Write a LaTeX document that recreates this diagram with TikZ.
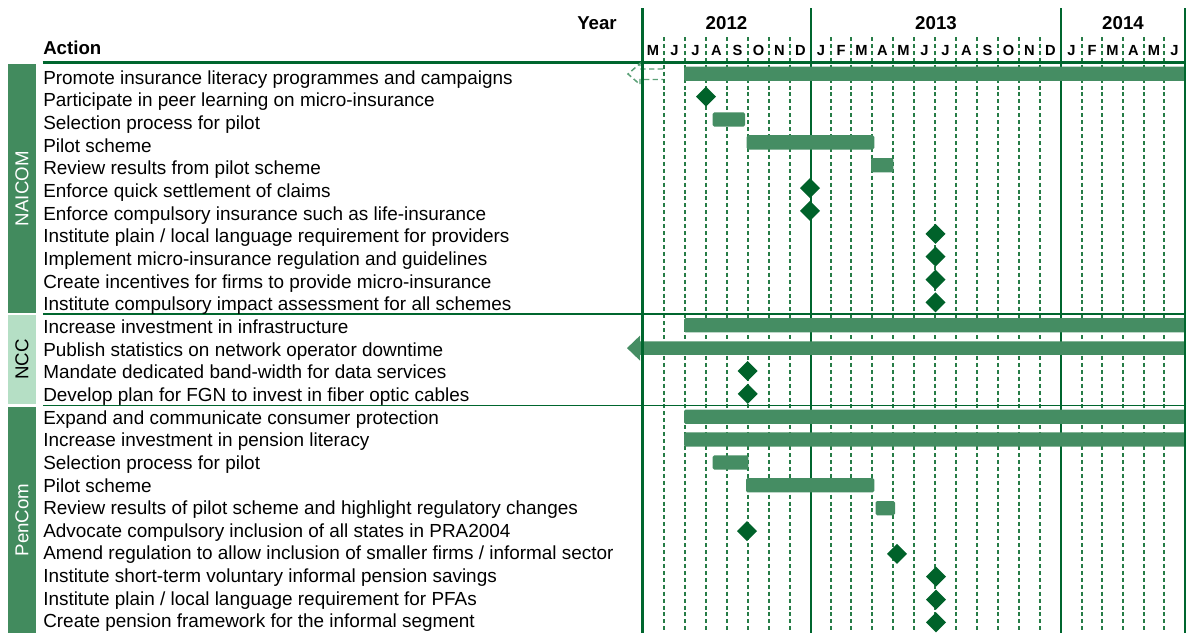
\documentclass[tikz,border=0pt]{standalone}
\usepackage{fontspec}
\setmainfont{Liberation Sans}
\definecolor{gridDark}{RGB}{0,102,46}
\definecolor{gridDash}{RGB}{38,124,70}
\definecolor{barGreen}{RGB}{69,141,99}
\definecolor{markGreen}{RGB}{0,98,42}
\definecolor{sideGreen}{RGB}{66,139,94}
\definecolor{sideLight}{RGB}{181,223,197}
\definecolor{ghostGreen}{RGB}{90,160,118}
\tikzset{
  actiontext/.style={anchor=base west, inner sep=0pt, font=\fontsize{14.2}{16}\selectfont},
  headtext/.style={inner sep=0pt, font=\fontsize{14}{16}\selectfont\bfseries},
  monthtext/.style={anchor=base, inner sep=0pt, font=\fontsize{11}{13}\selectfont\bfseries},
  sidelabel/.style={rotate=90, inner sep=0pt, font=\fontsize{14}{16}\selectfont},
  monthline/.style={draw=gridDash, line width=0.9pt, dash pattern=on 3pt off 2.2pt},
  yearline/.style={draw=gridDark, line width=1.1pt},
  frameline/.style={draw=gridDark, line width=2.2pt},
  groupline/.style={draw=gridDark, line width=1.1pt},
  taskbar/.style={fill=barGreen, rounded corners=1.2pt},
  milestone/.style={fill=markGreen},
}
% bar rows: centre of row i is 73.8 + 22.86 i ; text baseline is 84.3 + 22.65 i
\newcommand{\barrow}[3]{\fill[taskbar] (#2,{73.8+22.86*#1-7.15}) rectangle (#3,{73.8+22.86*#1+7.15});}
\newcommand{\gem}[2]{\fill[milestone] (#2,{73.8+22.86*#1-10}) -- (#2+10,{73.8+22.86*#1}) -- (#2,{73.8+22.86*#1+10}) -- (#2-10,{73.8+22.86*#1}) -- cycle;}
\begin{document}
\begin{tikzpicture}[x=0.75pt,y=-0.75pt]
\useasboundingbox (0,0) rectangle (1186,633);

% side group bars
\fill[sideGreen] (8.3,64.3) rectangle (35.7,313.2);
\fill[sideLight] (8.3,315.2) rectangle (35.7,404.2);
\fill[sideGreen] (8.3,406.8) rectangle (35.7,633);
\node[sidelabel, text=white] (gNaicom) at (22,188.7) {NAICOM};
\node[sidelabel, text=black] (gNcc) at (22,359.7) {NCC};
\node[sidelabel, text=white] (gPencom) at (22,519.9) {PenCom};

% header texts
\node[headtext, anchor=base east] (hYear) at (617,29.5) {Year};
\node[headtext, anchor=base west] (hAction) at (43,54.5) {Action};
\node[headtext, anchor=base] (y2012) at (726.5,29.5) {2012};
\node[headtext, anchor=base] (y2013) at (936,29.5) {2013};
\node[headtext, anchor=base] (y2014) at (1123,29.5) {2014};

% month columns
\foreach \a/\b/\m [count=\k] in {642/664/M,664/685/J,685/706/J,706/727/A,727/748/S,748/769/O,769/790/N,790/811/D,
  811/831/J,831/851/F,851/872/M,872/893/A,893/914/M,914/935/J,935/956/J,956/977/A,977/998/S,998/1019/O,1019/1040/N,1040/1061/D,
  1061/1082/J,1082/1102/F,1102/1123/M,1123/1144/A,1144/1164/M,1164/1185/J}
  \node[monthtext] (mon\k) at ({(\a+\b)/2},55.5) {\m};

\foreach \x in {664,685,706,727,748,769,790,831,851,872,893,914,935,956,977,998,1019,1040,1082,1102,1123,1144,1164}
  \draw[monthline] (\x,37) -- (\x,633);
\foreach \x in {811,1061}
  \draw[yearline] (\x,8) -- (\x,633);

% header rule and group separators
\draw[frameline, line width=1.9pt] (42.7,62.4) -- (1186,62.4);
\draw[groupline] (43,313.9) -- (1186,313.9);
\draw[groupline] (43,405.4) -- (1186,405.4);

% action labels
\foreach \t [count=\i from 0] in {
  Promote insurance literacy programmes and campaigns,
  Participate in peer learning on micro-insurance,
  Selection process for pilot,
  Pilot scheme,
  Review results from pilot scheme,
  Enforce quick settlement of claims,
  Enforce compulsory insurance such as life-insurance,
  Institute plain / local language requirement for providers,
  Implement micro-insurance regulation and guidelines,
  Create incentives for firms to provide micro-insurance,
  Institute compulsory impact assessment for all schemes,
  Increase investment in infrastructure,
  Publish statistics on network operator downtime,
  Mandate dedicated band-width for data services,
  Develop plan for FGN to invest in fiber optic cables,
  Expand and communicate consumer protection,
  Increase investment in pension literacy,
  Selection process for pilot,
  Pilot scheme,
  Review results of pilot scheme and highlight regulatory changes,
  Advocate compulsory inclusion of all states in PRA2004,
  Amend regulation to allow inclusion of smaller firms / informal sector,
  Institute short-term voluntary informal pension savings,
  Institute plain / local language requirement for PFAs,
  Create pension framework for the informal segment}
  \node[actiontext] (act\i) at (43,{84.3+22.65*\i}) {\t};

% faded outline arrow on the first row
\draw[ghostGreen, line width=1.1pt, dash pattern=on 4pt off 2.5pt]
  (663,69) -- (640,69) -- (640,63.5) -- (628,74) -- (640,84.5) -- (640,79.5) -- (663,79.5);

% task bars
\barrow{0}{684}{1186}
\barrow{2}{712.7}{745}
\barrow{3}{746.7}{874.3}
\barrow{4}{871}{893.3}
\barrow{11}{684}{1186}
\fill[barGreen] (1186,{348.1-6.65}) -- (640,{348.1-6.65}) -- (640,{348.1-12.5}) -- (627,348.1)
  -- (640,{348.1+12.5}) -- (640,{348.1+6.65}) -- (1186,{348.1+6.65}) -- cycle;
\barrow{15}{684}{1186}
\barrow{16}{684}{1186}
\barrow{17}{712.7}{748.3}
\barrow{18}{746}{874.3}
\barrow{19}{875.5}{895}

% milestones
\gem{1}{706}
\gem{5}{810}
\gem{6}{810}
\foreach \r in {7,8,9,10} {\gem{\r}{935.5}}
\gem{13}{747.7}
\gem{14}{747.7}
\gem{20}{747}
\gem{21}{897}
\foreach \r in {22,23,24} {\gem{\r}{936}}

% main frame lines
\draw[frameline] (642.3,8) -- (642.3,633);
\draw[frameline] (1185,8) -- (1185,633);
\end{tikzpicture}
\end{document}
